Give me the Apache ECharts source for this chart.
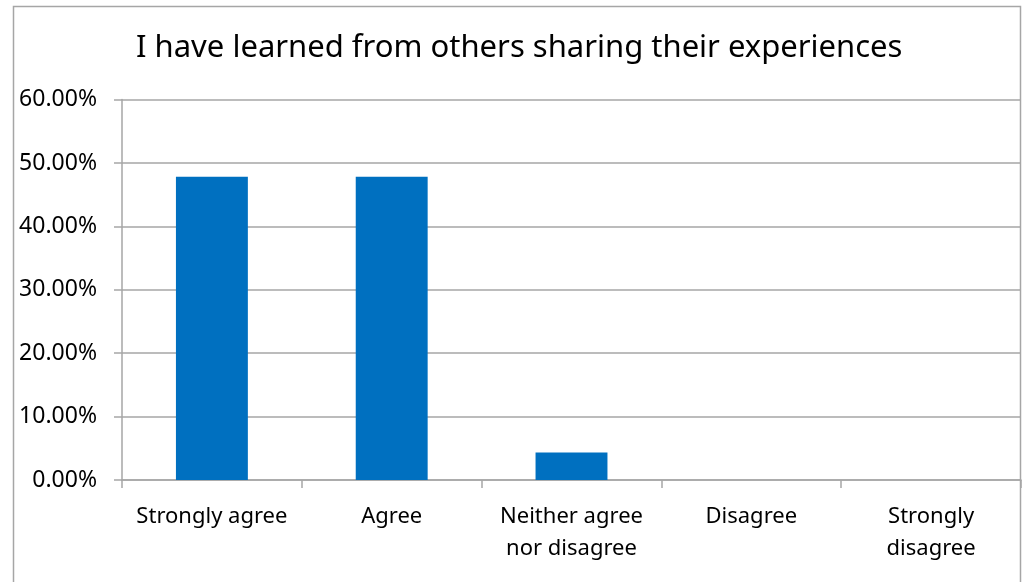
<!DOCTYPE html>
<html>
	<head>
		<meta charset="utf-8">
		<title>chart</title>
		<script src="https://cdn.jsdelivr.net/npm/echarts@6/dist/echarts.min.js"></script>
		<style>
			html, body { margin:0; padding:0; background:#fff; }
			#chart { width:1027px; height:582px; }
		</style>
	</head>
	<body>
		<div id="chart"></div>
		<script type="text/javascript">
			// survey answers, percent of respondents
			var categories = ['Strongly agree', 'Agree', 'Neither agree\nnor disagree', 'Disagree', 'Strongly\ndisagree'];
			var values = [47.83, 47.83, 4.35, 0, 0];
			var yTicks = { min: 0, max: 60, interval: 10 };

			var myChart = echarts.init(document.getElementById('chart'));
			var axisGrey = '#a6a6a6';
			myChart.setOption({
				animation: false,
				title: {
					text: 'I have learned from others sharing their experiences',
					left: 131,
					top: 28,
					textStyle: { fontFamily: 'Noto Sans', fontSize: 31, fontWeight: 'normal', color: '#000' }
				},
				graphic: [{
					type: 'rect',
					shape: { x: 13.5, y: 6.5, width: 1007, height: 620 },
					style: { fill: 'none', stroke: axisGrey, lineWidth: 1.5 },
					silent: true
				}],
				grid: { left: 122, right: 6, top: 99.6, bottom: 102, containLabel: false },
				xAxis: {
					type: 'category',
					data: categories,
					axisLine: { lineStyle: { color: axisGrey, width: 1.5 } },
					axisTick: { show: true, length: 8, lineStyle: { color: axisGrey, width: 1.5 } },
					axisLabel: { margin: 21, fontFamily: 'Noto Sans', fontSize: 22, color: '#000', lineHeight: 32, interval: 0 }
				},
				yAxis: {
					type: 'value',
					min: yTicks.min, max: yTicks.max, interval: yTicks.interval,
					axisLine: { show: true, lineStyle: { color: axisGrey, width: 1.5 } },
					axisTick: { show: true, length: 8, lineStyle: { color: axisGrey, width: 1.5 } },
					splitLine: { lineStyle: { color: axisGrey, width: 1.5 } },
					axisLabel: {
						margin: 25, fontFamily: 'Noto Sans', fontSize: 23, color: '#000',
						formatter: function (v) { return v.toFixed(2) + '%'; }
					}
				},
				series: [{
					type: 'bar',
					data: values,
					barWidth: '40%',
					itemStyle: { color: '#0070c0' }
				}]
			});
		</script>
	</body>
</html>
